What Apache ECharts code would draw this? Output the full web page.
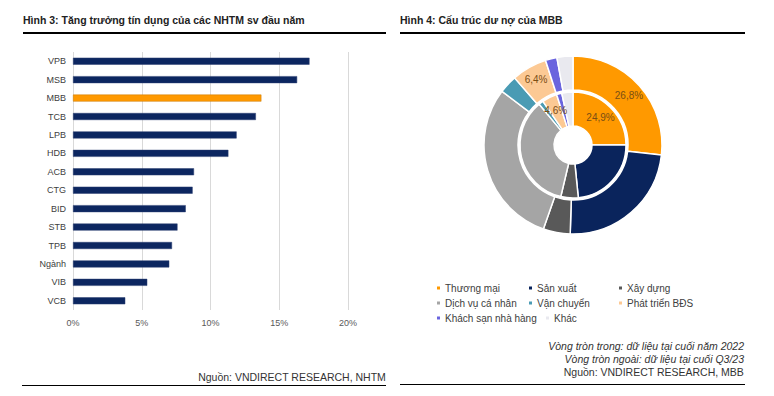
<!DOCTYPE html>
<html>
<head>
<meta charset="utf-8">
<script src="https://cdn.jsdelivr.net/npm/echarts@6/dist/echarts.min.js"></script>
<style>
html, body { margin: 0; padding: 0; background: #fff; }
#chart { width: 774px; height: 396px; }
</style>
</head>
<body>
<div id="chart"></div>
<script>
// Hình 3 - tăng trưởng tín dụng (%)
const banks = ['VPB', 'MSB', 'MBB', 'TCB', 'LPB', 'HDB', 'ACB', 'CTG', 'BID', 'STB', 'TPB', 'Ngành', 'VIB', 'VCB'];
const growth = [17.2, 16.3, 13.7, 13.3, 11.9, 11.3, 8.8, 8.7, 8.2, 7.6, 7.2, 7.0, 5.4, 3.8];
const xTicks = [0, 5, 10, 15, 20];

// Hình 4 - cơ cấu dư nợ MBB (%)
const sectors = ['Thương mại', 'Sản xuất', 'Xây dựng', 'Dịch vụ cá nhân', 'Vận chuyển', 'Phát triển BĐS', 'Khách sạn nhà hàng', 'Khác'];
const inner2022 = [24.9, 23.5, 5.3, 35.3, 1.4, 4.6, 1.6, 3.4];
const outerQ323 = [26.8, 23.7, 4.9, 29.9, 3.3, 6.4, 2.1, 2.9];
const labelledInner = ['Thương mại', 'Phát triển BĐS'];
const labelledOuter = ['Thương mại', 'Phát triển BĐS'];

const sectorColors = ['#ff9900', '#0a245c', '#595959', '#a5a5a5', '#4a9bb4', '#fcc994', '#6a64de', '#e9e9ef'];
const NAVY = '#0c2660';
const ORANGE = '#ff9900';
const FONT = '"Liberation Sans", Arial, sans-serif';

const pct = v => v.toFixed(1).replace('.', ',') + '%';

function pieData(values, labelled) {
  return sectors.map((name, i) => ({
    name: name,
    value: values[i],
    label: { show: labelled.indexOf(name) >= 0 }
  }));
}

const chart = echarts.init(document.getElementById('chart'), null, { renderer: 'svg' });

const option = {
  animation: false,
  color: sectorColors,
  textStyle: { fontFamily: FONT },
  grid: { left: 73, top: 52, width: 275, height: 258, containLabel: false },
  xAxis: {
    type: 'value',
    min: xTicks[0],
    max: xTicks[xTicks.length - 1],
    interval: xTicks[1] - xTicks[0],
    axisLine: { show: false },
    axisTick: { show: false },
    splitLine: { show: true, lineStyle: { color: '#d9d9d9', width: 1 } },
    axisLabel: { formatter: '{value}%', color: '#595959', fontSize: 9, margin: 8, fontFamily: FONT }
  },
  yAxis: {
    type: 'category',
    data: banks,
    inverse: true,
    axisLine: { show: false },
    axisTick: { show: false },
    axisLabel: { color: '#404040', fontSize: 9, margin: 7, fontFamily: FONT }
  },
  // legend laid out like the Excel flow legend: 3 columns, "Khác" trails row 3
  legend: [
    { data: [sectors[0], sectors[3], sectors[6]], left: 437, top: 283 },
    { data: [sectors[1], sectors[4]], left: 529, top: 283 },
    { data: [sectors[2], sectors[5]], left: 619, top: 283 },
    { data: [sectors[7]], left: 546, top: 313 }
  ].map(l => Object.assign({
    orient: 'vertical',
    padding: 0,
    itemGap: 5,
    itemWidth: 3,
    itemHeight: 3,
    icon: 'rect',
    selectedMode: false,
    itemStyle: { borderWidth: 0 },
    textStyle: { color: '#404040', fontSize: 10, fontFamily: FONT }
  }, l)),
  series: [
    {
      type: 'bar',
      barWidth: 7,
      data: growth.map((v, i) => ({
        value: v,
        itemStyle: { color: banks[i] === 'MBB' ? ORANGE : NAVY,
                     borderColor: banks[i] === 'MBB' ? '#c77800' : '#2a3f70', borderWidth: 0.5 }
      }))
    },
    {
      name: 'Vòng tròn trong',
      type: 'pie',
      center: [573, 145],
      radius: [19, 53],
      startAngle: 90,
      itemStyle: { borderColor: '#fff', borderWidth: 1.5 },
      label: {
        position: 'inside',
        formatter: p => pct(p.value),
        color: '#7a4e14',
        fontSize: 10,
        fontFamily: FONT
      },
      labelLine: { show: false },
      emphasis: { disabled: true },
      data: pieData(inner2022, labelledInner)
    },
    {
      name: 'Vòng tròn ngoài',
      type: 'pie',
      center: [573, 145],
      radius: [55, 89],
      startAngle: 90,
      itemStyle: { borderColor: '#fff', borderWidth: 1.5 },
      label: {
        position: 'inside',
        formatter: p => pct(p.value),
        color: '#7a4e14',
        fontSize: 10,
        fontFamily: FONT
      },
      labelLine: { show: false },
      emphasis: { disabled: true },
      data: pieData(outerQ323, labelledOuter)
    }
  ],
  graphic: [
    { type: 'text', left: 23, top: 14, style: { text: 'Hình 3: Tăng trưởng tín dụng của các NHTM sv đầu năm', font: 'bold 10.5px ' + FONT, fill: '#222' } },
    { type: 'rect', shape: { x: 23, y: 32, width: 363, height: 2 }, style: { fill: '#000' } },
    { type: 'text', right: 388, top: 371, style: { text: 'Nguồn: VNDIRECT RESEARCH, NHTM', font: '10.5px ' + FONT, fill: '#333' } },
    { type: 'rect', shape: { x: 22, y: 385, width: 364, height: 1 }, style: { fill: '#000' } },

    { type: 'text', left: 400, top: 14, style: { text: 'Hình 4: Cấu trúc dư nợ của MBB', font: 'bold 10.5px ' + FONT, fill: '#222' } },
    { type: 'rect', shape: { x: 400, y: 32, width: 345, height: 2 }, style: { fill: '#000' } },
    { type: 'text', right: 30, top: 340, style: { text: 'Vòng tròn trong: dữ liệu tại cuối năm 2022', font: 'italic 10.5px ' + FONT, fill: '#333' } },
    { type: 'text', right: 30, top: 353, style: { text: 'Vòng tròn ngoài: dữ liệu tại cuối Q3/23', font: 'italic 10.5px ' + FONT, fill: '#333' } },
    { type: 'text', right: 30, top: 366, style: { text: 'Nguồn: VNDIRECT RESEARCH, MBB', font: '10.5px ' + FONT, fill: '#333' } },
    { type: 'rect', shape: { x: 400, y: 384, width: 345, height: 1 }, style: { fill: '#000' } }
  ]
};

chart.setOption(option);
</script>
</body>
</html>
